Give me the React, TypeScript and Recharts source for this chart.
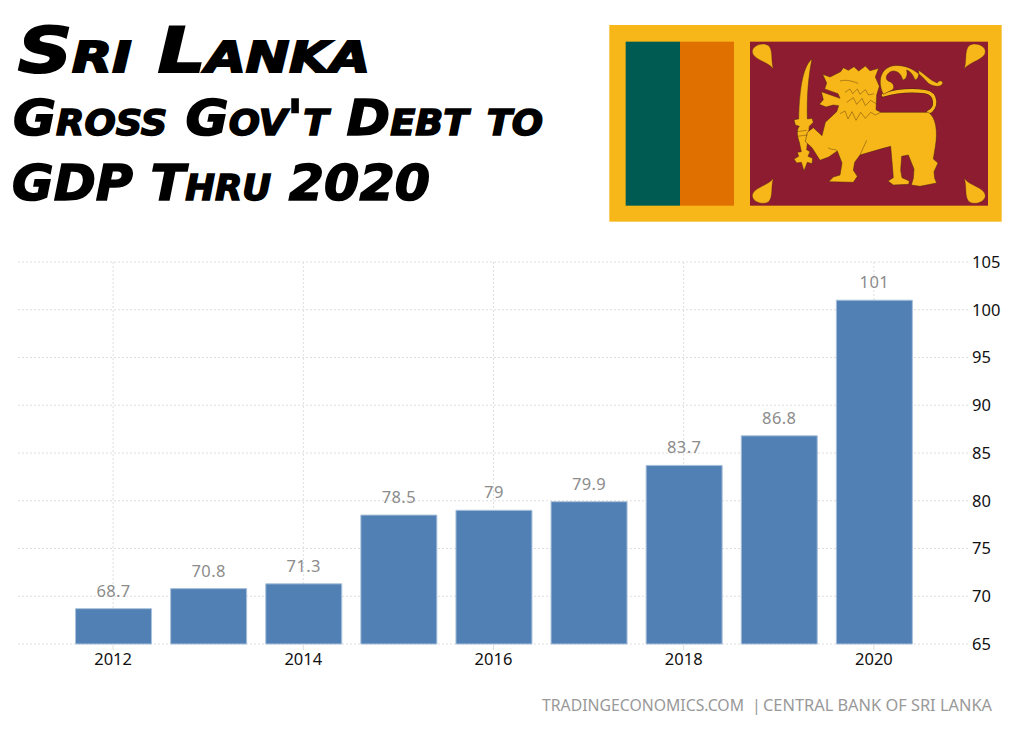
import React from 'react';
import { BarChart, Bar, XAxis, YAxis, CartesianGrid, LabelList } from 'recharts';

const years = [2012, 2013, 2014, 2015, 2016, 2017, 2018, 2019, 2020];
const debtToGdp = [68.7, 70.8, 71.3, 78.5, 79, 79.9, 83.7, 86.8, 101];
const yearTicks = [2012, 2014, 2016, 2018, 2020];
const valueTicks = [65, 70, 75, 80, 85, 90, 95, 100, 105];

const data = years.map((year, i) => ({ year, value: debtToGdp[i] }));

const FONT = '"DejaVu Sans", sans-serif';
const TICK_FONT = '"Noto Sans", sans-serif';
const YELLOW = '#F7B718';
const OUTLINE = '#4a2412';

const Leaf = ({ flipX, flipY }: { flipX?: boolean; flipY?: boolean }) => (
  <path
    transform={`translate(${flipX ? 1613 : 0} ${flipY ? 652 : 0}) scale(${flipX ? -1 : 1} ${flipY ? -1 : 1})`}
    d="M520 162 C506 140 458 134 457 110 C457 92 488 80 506 92 C520 106 512 136 520 162 Z"
    fill={YELLOW}
    stroke={OUTLINE}
    strokeWidth={1}
  />
);

const Flag = () => (
  <svg
    width={410}
    height={215}
    viewBox="0 0 1230 645"
    style={{ position: 'absolute', left: 600, top: 15 }}
  >
    <rect x={28} y={30} width={1177} height={590} fill={YELLOW} />
    <rect x={77} y={80} width={163} height={492} fill="#005C52" />
    <rect x={240} y={80} width={162} height={492} fill="#E07000" />
    <rect x={450} y={80} width={714} height={492} fill="#8D1C31" />
    <Leaf />
    <Leaf flipX />
    <Leaf flipY />
    <Leaf flipX flipY />

    {/* sword */}
    <path
      d="M636 132 C612 150 598 210 596 312 L582 314 L586 330 L598 334 C588 345 592 365 598 382 L604 410 L592 412 L596 424 L582 432 L590 444 L604 442 L612 468 L622 442 L636 446 L638 430 L624 424 L630 410 L620 404 L628 334 L640 322 L636 310 L622 312 C620 240 626 180 636 132 Z"
      fill={YELLOW}
      stroke={OUTLINE}
      strokeWidth={1.5}
    />

    {/* tail and scroll */}
    <path
      d="M985 292 C1012 280 1012 236 975 230 C930 224 890 228 850 240"
      fill="none"
      stroke={OUTLINE}
      strokeWidth={13}
      strokeLinecap="round"
    />
    <path
      d="M985 292 C1012 280 1012 236 975 230 C930 224 890 228 850 240"
      fill="none"
      stroke={YELLOW}
      strokeWidth={10}
      strokeLinecap="round"
    />
    <path
      d="M850 238 C832 200 840 160 880 152 C925 146 960 175 985 205 C1000 216 1025 218 1028 205 C1030 195 1015 195 1012 204 C990 196 975 178 955 165 C960 185 950 195 945 195 C940 180 930 168 920 165 C925 185 915 195 908 195 C905 180 895 168 880 168 C860 170 850 195 870 200 C880 205 885 215 878 224 L850 238 Z"
      fill={YELLOW}
      stroke={OUTLINE}
      strokeWidth={1.5}
    />

    {/* lion body */}
    <path
      d="M668 178 L690 186 L722 170 L730 158 L745 166 L762 155 L776 168 L796 153 L810 167 L836 160 L826 186 L838 214 L830 240 L828 284 L842 292 L985 292 C1008 306 1014 350 1006 395 L1000 432 L1014 444 L1002 470 L1004 490 L1010 504 L960 514 L934 510 L940 490 L942 462 L925 420 L905 424 L902 466 L906 488 L928 498 L926 508 L880 510 L864 498 L880 488 L876 440 L872 394 C840 402 810 412 780 420 L764 442 L760 466 L772 484 L760 502 L686 500 L700 486 L720 480 L726 444 L712 408 L686 426 L660 436 L636 398 L616 380 L622 352 L640 338 L666 362 L676 322 L710 290 L716 272 L700 270 L678 276 L658 268 L670 254 L664 230 L720 250 L714 236 L674 222 L680 204 Z"
      fill={YELLOW}
      stroke={OUTLINE}
      strokeWidth={1.5}
      strokeLinejoin="round"
    />

    {/* mane and face lines */}
    <path
      d="M720 198 C740 192 760 200 775 205 M735 232 L750 222 L758 236 L772 222 L780 238 L796 224 L806 240 L822 236 M720 296 L735 288 L744 312 L756 290 L768 316 L782 292 L796 310 L812 292 L826 300 L842 292 M740 262 L760 248 L770 268 L786 250 L796 272 L812 256 L828 266 M590 350 L620 346 M590 364 L622 360 M684 398 C700 408 706 400 712 408 M780 420 L800 376"
      fill="none"
      stroke={OUTLINE}
      strokeWidth={1.2}
    />
  </svg>
);

const Title = () => (
  <svg width={600} height={230} style={{ position: 'absolute', left: 0, top: 0 }}>
    <g
      fontFamily={FONT}
      fontWeight={700}
      fontStyle="italic"
      fill="#000"
      stroke="#000"
      style={{ fontVariant: 'small-caps' }}
    >
      <text x={18} y={72} fontSize={62} strokeWidth={2} textLength={352} lengthAdjust="spacingAndGlyphs">
        Sri Lanka
      </text>
      <text x={13} y={135} fontSize={50} strokeWidth={1.5} textLength={530} lengthAdjust="spacingAndGlyphs">
        Gross Gov't Debt to
      </text>
      <text x={12} y={200} fontSize={50} strokeWidth={1.5} textLength={418} lengthAdjust="spacingAndGlyphs">
        GDP Thru 2020
      </text>
    </g>
  </svg>
);

const Source = () => (
  <svg width={1024} height={40} style={{ position: 'absolute', left: 0, top: 690 }}>
    <g fontFamily={TICK_FONT} fontSize={16} fill="#999999">
      <text x={542} y={21} textLength={202} lengthAdjust="spacingAndGlyphs">TRADINGECONOMICS.COM</text>
      <text x={752} y={21}>|</text>
      <text x={763} y={21} textLength={229} lengthAdjust="spacingAndGlyphs">CENTRAL BANK OF SRI LANKA</text>
    </g>
  </svg>
);

const App: React.FC = () => {
  return (
    <div style={{ position: 'absolute', left: 0, top: 0, width: 1024, height: 729, background: '#fff', overflow: 'hidden' }}>
      <BarChart
        width={1024}
        height={729}
        data={data}
        margin={{ top: 262, right: 0, bottom: 0, left: 18 }}
      >
        <CartesianGrid stroke="#dedede" strokeDasharray="2 2" verticalValues={yearTicks} />
        <XAxis
          dataKey="year"
          type="number"
          domain={[2011, 2021]}
          ticks={yearTicks}
          height={85}
          tickSize={6}
          tickMargin={3}
          stroke="#dedede"
          axisLine={false}
          tick={{ fill: '#111', fontFamily: TICK_FONT, fontSize: 16.5 }}
        />
        <YAxis
          orientation="right"
          type="number"
          domain={[65, 105]}
          ticks={valueTicks}
          width={55}
          axisLine={false}
          tickLine={false}
          tickMargin={0}
          interval={0}
          tick={{ fill: '#111', fontFamily: TICK_FONT, fontSize: 16.5, dx: -3 }}
        />
        <Bar dataKey="value" fill="#5080B4" stroke="#A8C0DA" strokeWidth={1} barSize={76} isAnimationActive={false}>
          <LabelList
            dataKey="value"
            position="top"
            offset={12}
            fill="#8c8c8c"
            fontFamily={TICK_FONT}
            fontSize={16.5}
            letterSpacing={0.4}
          />
        </Bar>
      </BarChart>
      <Title />
      <Flag />
      <Source />
    </div>
  );
};

export default App;
